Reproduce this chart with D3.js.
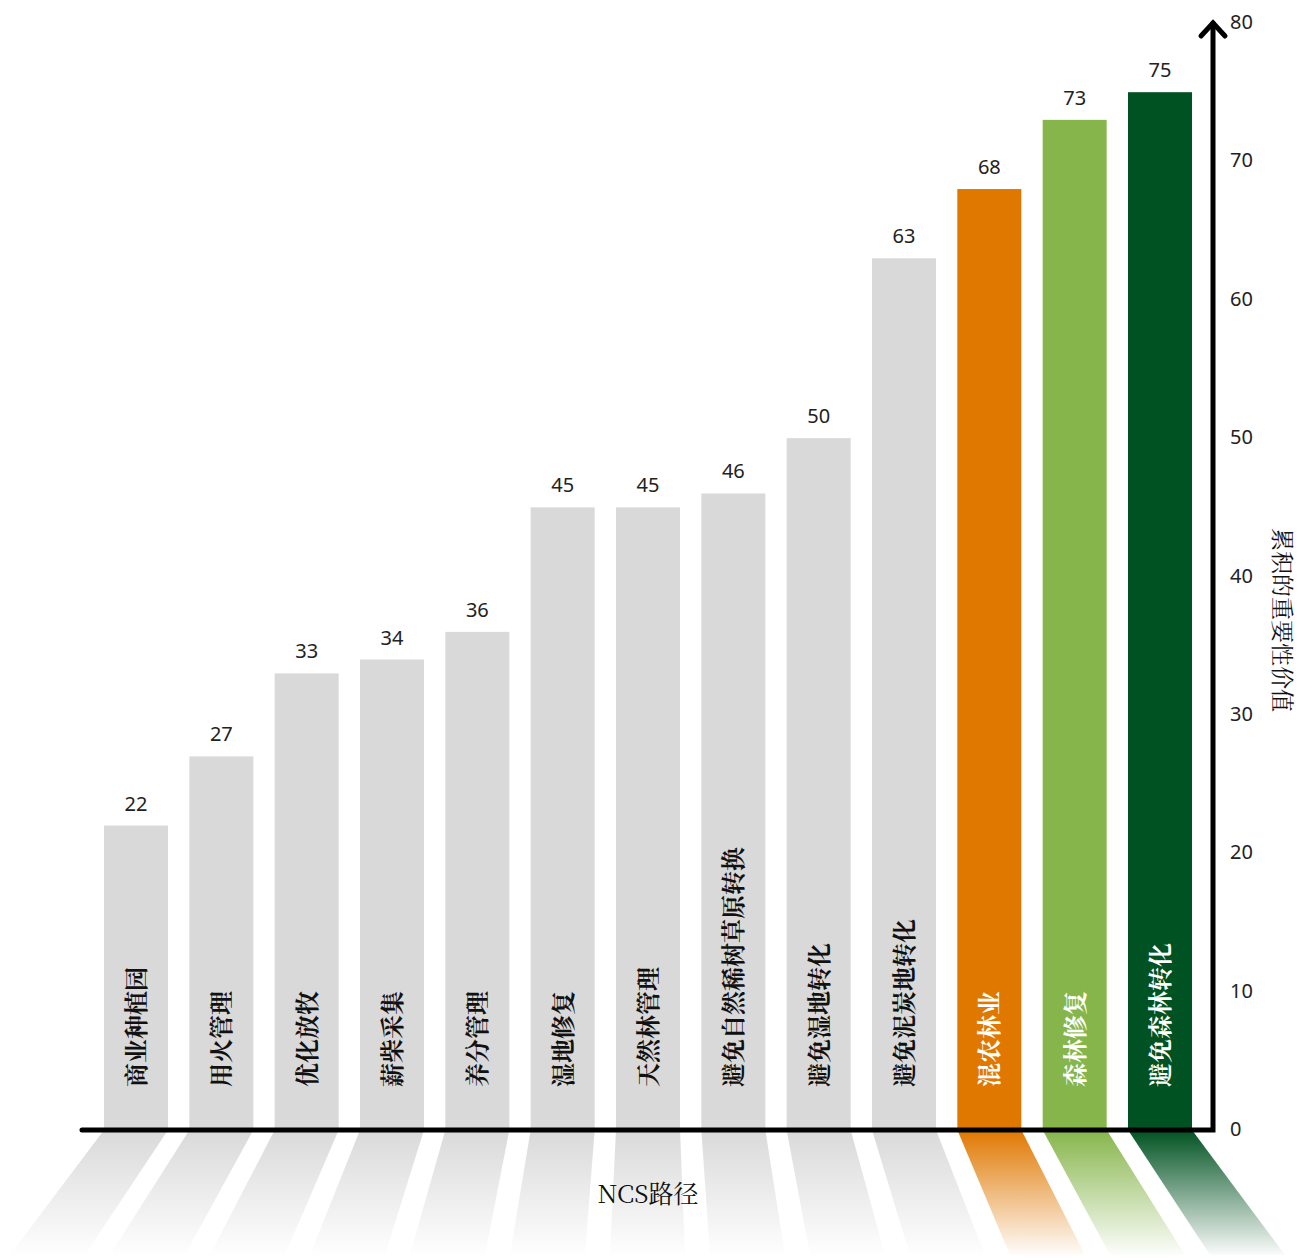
<!DOCTYPE html>
<html>
  <head>
    <meta charset="utf-8">
    <title>NCS路径 累积的重要性价值</title>
    <script src="https://d3js.org/d3.v7.min.js"></script>
    <style>
      body { margin: 0; background: #fff; }
      svg { display: block; }
      .serif { font-family: "Noto Serif CJK SC", "Noto Sans CJK SC", serif; }
      .num { font-family: "Noto Sans", "Open Sans", sans-serif; fill: #222; }
    </style>
  </head>
  <body>
    <div id="chart"></div>
    <script>
      // categories and values
      var categories = ["商业种植园", "用火管理", "优化放牧", "薪柴采集", "养分管理", "湿地修复",
                        "天然林管理", "避免自然稀树草原转换", "避免湿地转化", "避免泥炭地转化",
                        "混农林业", "森林修复", "避免森林转化"];
      var values = [22, 27, 33, 34, 36, 45, 45, 46, 50, 63, 68, 73, 75];
      var barColors = ["#d9d9d9", "#d9d9d9", "#d9d9d9", "#d9d9d9", "#d9d9d9", "#d9d9d9",
                       "#d9d9d9", "#d9d9d9", "#d9d9d9", "#d9d9d9", "#e07800", "#86b54b", "#005222"];
      var tickValues = [0, 10, 20, 30, 40, 50, 60, 70, 80];

      var width = 1301, height = 1258;
      var svg = d3.select("#chart").append("svg")
          .attr("width", width).attr("height", height);

      var x = d3.scaleBand().domain(categories).range([104, 1192]).paddingInner(0.25).paddingOuter(0);
      var y = d3.scaleLinear().domain([0, 80]).range([1130, 23]);

      var baseY = y(0);
      var vanishX = 651, spread = 0.172, floorH = 125;

      // gradients for the floor reflections
      var defs = svg.append("defs");
      categories.forEach(function (c, i) {
        var g = defs.append("linearGradient").attr("id", "grad" + i)
            .attr("x1", 0).attr("y1", 0).attr("x2", 0).attr("y2", 1);
        g.append("stop").attr("offset", 0).attr("stop-color", barColors[i]).attr("stop-opacity", 1);
        g.append("stop").attr("offset", 1).attr("stop-color", barColors[i]).attr("stop-opacity", 0.02);
      });

      // floor trapezoids
      svg.append("g").selectAll("path").data(categories).join("path")
          .attr("fill", function (d, i) { return "url(#grad" + i + ")"; })
          .attr("d", function (d) {
            var x0 = x(d), x1 = x(d) + x.bandwidth();
            var b0 = x0 + spread * (x0 - vanishX), b1 = x1 + spread * (x1 - vanishX);
            return "M" + x0 + "," + baseY + "L" + x1 + "," + baseY +
                   "L" + b1 + "," + (baseY + floorH) + "L" + b0 + "," + (baseY + floorH) + "Z";
          });

      // bars
      svg.append("g").selectAll("rect").data(categories).join("rect")
          .attr("x", function (d) { return x(d); })
          .attr("y", function (d, i) { return y(values[i]); })
          .attr("width", x.bandwidth())
          .attr("height", function (d, i) { return baseY - y(values[i]); })
          .attr("fill", function (d, i) { return barColors[i]; });

      // value labels
      svg.append("g").selectAll("text").data(categories).join("text")
          .attr("class", "num")
          .attr("x", function (d) { return x(d) + x.bandwidth() / 2; })
          .attr("y", function (d, i) { return y(values[i]) - 15; })
          .attr("text-anchor", "middle")
          .attr("font-size", 20)
          .text(function (d, i) { return values[i]; });

      // category labels inside bars, reading upward
      svg.append("g").selectAll("text").data(categories).join("text")
          .attr("class", "serif")
          .attr("transform", function (d) {
            return "translate(" + (x(d) + x.bandwidth() / 2 + 9) + "," + 1087 + ") rotate(-90)";
          })
          .attr("font-size", 24)
          .attr("font-weight", "bold")
          .attr("fill", function (d, i) { return i >= 10 ? "#fff" : "#111"; })
          .text(function (d) { return d; });

      // baseline + y axis
      svg.append("path")
          .attr("d", "M82," + baseY + "H1213V" + y(80))
          .attr("fill", "none").attr("stroke", "#000").attr("stroke-width", 5)
          .attr("stroke-linecap", "round").attr("stroke-linejoin", "miter");
      svg.append("path")
          .attr("d", "M1201," + (y(80) + 13) + "L1213," + y(80) + "L1225," + (y(80) + 13))
          .attr("fill", "none").attr("stroke", "#000").attr("stroke-width", 5)
          .attr("stroke-linecap", "round").attr("stroke-linejoin", "miter");

      // tick labels
      svg.append("g").selectAll("text").data(tickValues).join("text")
          .attr("class", "num")
          .attr("x", 1230)
          .attr("y", function (d) { return y(d); })
          .attr("dy", "0.3em")
          .attr("font-size", 20)
          .text(function (d) { return d; });

      // axis titles
      svg.append("text").attr("class", "serif")
          .attr("transform", "translate(1283,620) rotate(90)")
          .attr("text-anchor", "middle")
          .attr("dominant-baseline", "central")
          .attr("font-size", 23)
          .attr("fill", "#111")
          .text("累积的重要性价值");

      svg.append("text").attr("class", "serif")
          .attr("x", 648).attr("y", 1203)
          .attr("text-anchor", "middle")
          .attr("font-size", 25)
          .attr("fill", "#111")
          .text("NCS路径");
    </script>
  </body>
</html>
